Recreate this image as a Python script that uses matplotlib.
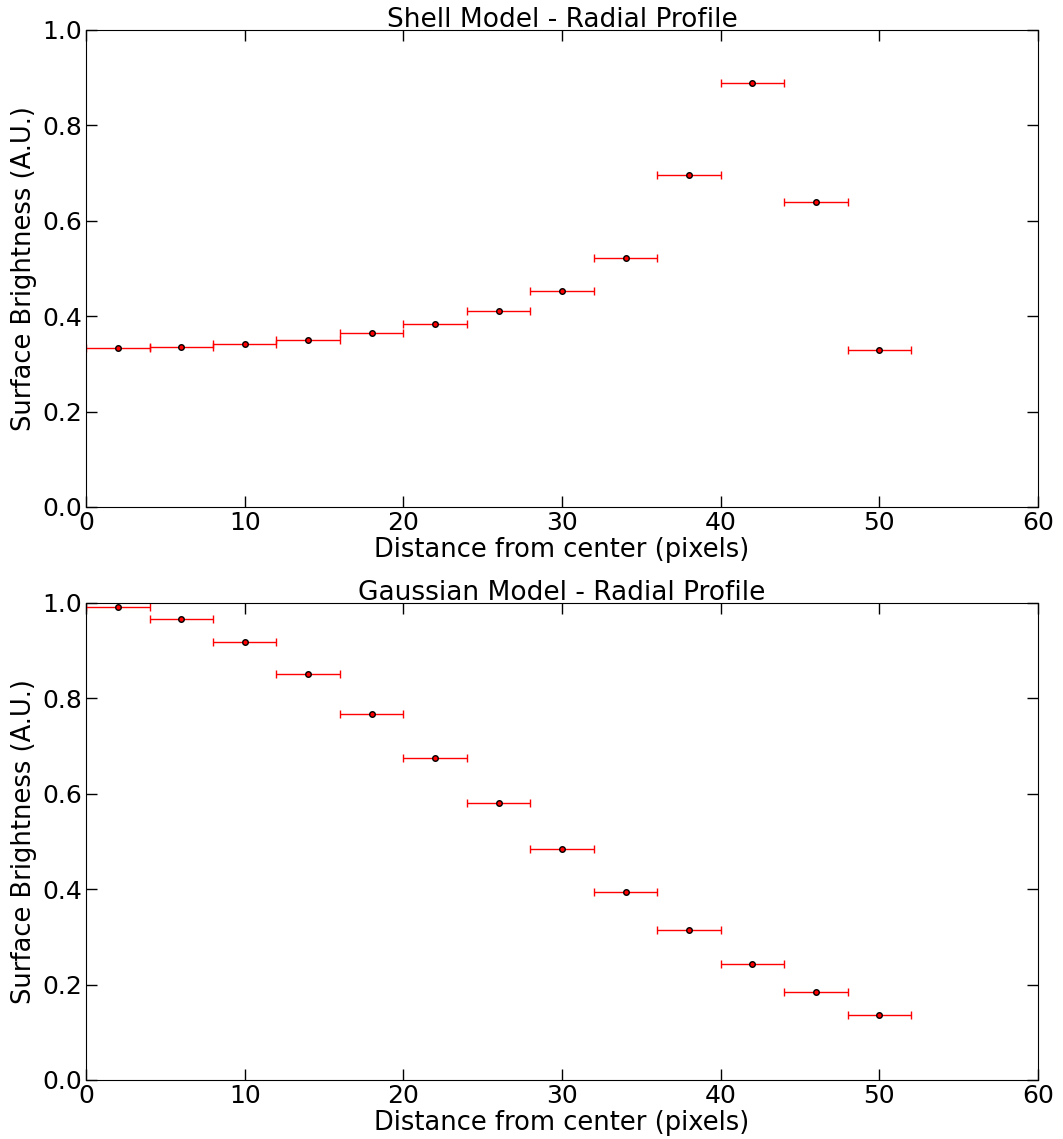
import numpy as np
import matplotlib
matplotlib.use("Agg")
import matplotlib.pyplot as plt

# radial bins (pixels) and half-width of each bin
radius = [2, 6, 10, 14, 18, 22, 26, 30, 34, 38, 42, 46, 50]
bin_half = [2] * len(radius)

shell_profile = [0.333, 0.336, 0.342, 0.350, 0.365, 0.384, 0.411,
                 0.453, 0.522, 0.696, 0.889, 0.639, 0.330]
gauss_profile = [0.992, 0.966, 0.918, 0.851, 0.767, 0.676, 0.580,
                 0.484, 0.395, 0.314, 0.243, 0.184, 0.136]

titles = ["Shell Model - Radial Profile", "Gaussian Model - Radial Profile"]

fig = plt.figure(figsize=(10.63, 11.39), dpi=100)
ax1 = fig.add_axes([0.081, 0.5549, 0.8955, 0.4188])
ax2 = fig.add_axes([0.081, 0.0518, 0.8955, 0.4188])

fs = 18
for ax, prof, title in zip([ax1, ax2], [shell_profile, gauss_profile], titles):
    ax.errorbar(radius, prof, xerr=bin_half, fmt='o', color='red', ecolor='red',
                elinewidth=1, capsize=3, markersize=4, markerfacecolor='red',
                markeredgecolor='black', markeredgewidth=1)
    ax.set_xlim(0, 60)
    ax.set_ylim(0, 1.0)
    ax.set_xticks(np.arange(0, 61, 10))
    ax.set_yticks(np.arange(0, 1.01, 0.2))
    ax.yaxis.set_major_formatter(matplotlib.ticker.FormatStrFormatter('%.1f'))
    ax.tick_params(direction='in', top=True, right=True, length=8, width=1,
                   labelsize=fs, pad=3)
    ax.set_title(title, fontsize=19, pad=2)
    ax.set_xlabel("Distance from center (pixels)", fontsize=18.5, labelpad=1)
    ax.set_ylabel("Surface Brightness (A.U.)", fontsize=18.5, labelpad=4)

fig.savefig("out.png", dpi=100, facecolor='white')
